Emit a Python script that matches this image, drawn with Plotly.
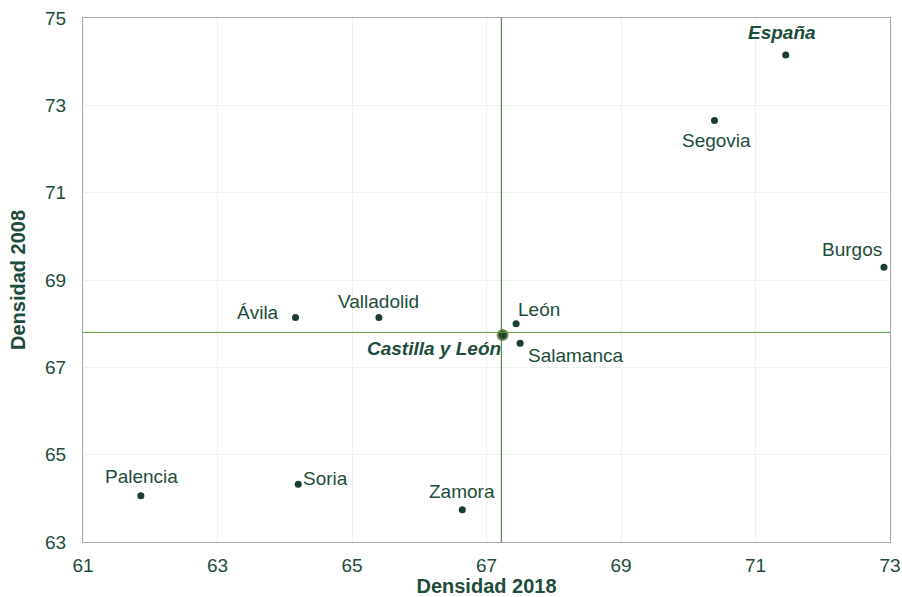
import plotly.graph_objects as go

names = ["España", "Segovia", "Burgos", "León", "Salamanca", "Castilla y León",
         "Ávila", "Valladolid", "Palencia", "Soria", "Zamora"]
dens_2018 = [71.45, 70.39, 72.91, 67.44, 67.50, 67.24, 64.16, 65.40, 61.86, 64.20, 66.64]
dens_2008 = [74.15, 72.65, 69.29, 68.00, 67.55, 67.74, 68.14, 68.14, 64.06, 64.32, 63.74]
ref_x = 67.22
ref_y = 67.80
tick_vals = [61, 63, 65, 67, 69, 71, 73]
y_tick_vals = [63, 65, 67, 69, 71, 73, 75]

# label placement: (xanchor, yanchor, xshift, yshift)
label_pos = {
    "España": ("center", "bottom", -4, 10),
    "Segovia": ("center", "top", 2, -7),
    "Burgos": ("right", "bottom", 0, 5),
    "León": ("left", "bottom", 0, 2),
    "Salamanca": ("left", "top", 6, 0),
    "Castilla y León": ("right", "top", 0, -1),
    "Ávila": ("right", "middle", -15, 5),
    "Valladolid": ("center", "bottom", 0, 4),
    "Palencia": ("center", "bottom", 1, 7),
    "Soria": ("left", "middle", 3, 6),
    "Zamora": ("center", "bottom", 0, 6),
}
bold = {"España", "Castilla y León"}

dark = "#1d4d3a"
dot = "#1a3f2c"
FONT = "Liberation Sans, Arial"
fig = go.Figure()
fig.add_shape(type="line", xref="x", yref="y", x0=61, x1=73, y0=ref_y, y1=ref_y,
              line=dict(color="#5aa02c", width=1))
fig.add_shape(type="line", xref="x", yref="y", x0=ref_x, x1=ref_x, y0=63, y1=75,
              line=dict(color="#3f6f3a", width=1))

is_cyl = [n == "Castilla y León" for n in names]
fig.add_trace(go.Scatter(
    x=dens_2018, y=dens_2008, mode="markers",
    marker=dict(color=dot, opacity=1, size=[10 if c else 7 for c in is_cyl],
                line=dict(color=["#7f8a55" if c else dot for c in is_cyl],
                          width=[2 if c else 0 for c in is_cyl])),
    showlegend=False, hoverinfo="text", text=names))

for n, xv, yv in zip(names, dens_2018, dens_2008):
    xa, ya, xs, ys = label_pos[n]
    txt = f"<b><i>{n}</i></b>" if n in bold else n
    fig.add_annotation(x=xv, y=yv, text=txt, showarrow=False, xanchor=xa, yanchor=ya,
                       xshift=xs, yshift=ys,
                       font=dict(family=FONT, size=19, color=dark))

fig.update_layout(
    width=902, height=597,
    margin=dict(l=83, r=12, t=18, b=55),
    paper_bgcolor="white", plot_bgcolor="white",
    font=dict(family=FONT, color=dark),
    xaxis=dict(range=[61, 73], tickvals=tick_vals, showgrid=True, gridcolor="#edf3e8",
               zeroline=False, showline=True, linecolor="#a6a6a6", mirror=True,
               tickfont=dict(size=19, color=dark), ticks="outside", ticklen=6,
               tickcolor="rgba(0,0,0,0)", automargin=False,
               title=dict(text="<b>Densidad 2018</b>", font=dict(size=20, color=dark), standoff=3)),
    yaxis=dict(range=[63, 75], tickvals=y_tick_vals, showgrid=True, gridcolor="#edf3e8",
               zeroline=False, showline=True, linecolor="#a6a6a6", mirror=True,
               tickfont=dict(size=19, color=dark), ticks="outside", ticklen=12,
               tickcolor="rgba(0,0,0,0)", automargin=False,
               title=dict(text="<b>Densidad 2008</b>", font=dict(size=20, color=dark), standoff=14)),
)

fig.write_html("out.html", config={"displayModeBar": False},
               post_script="document.body.style.margin='0';document.body.style.overflow='hidden';")
